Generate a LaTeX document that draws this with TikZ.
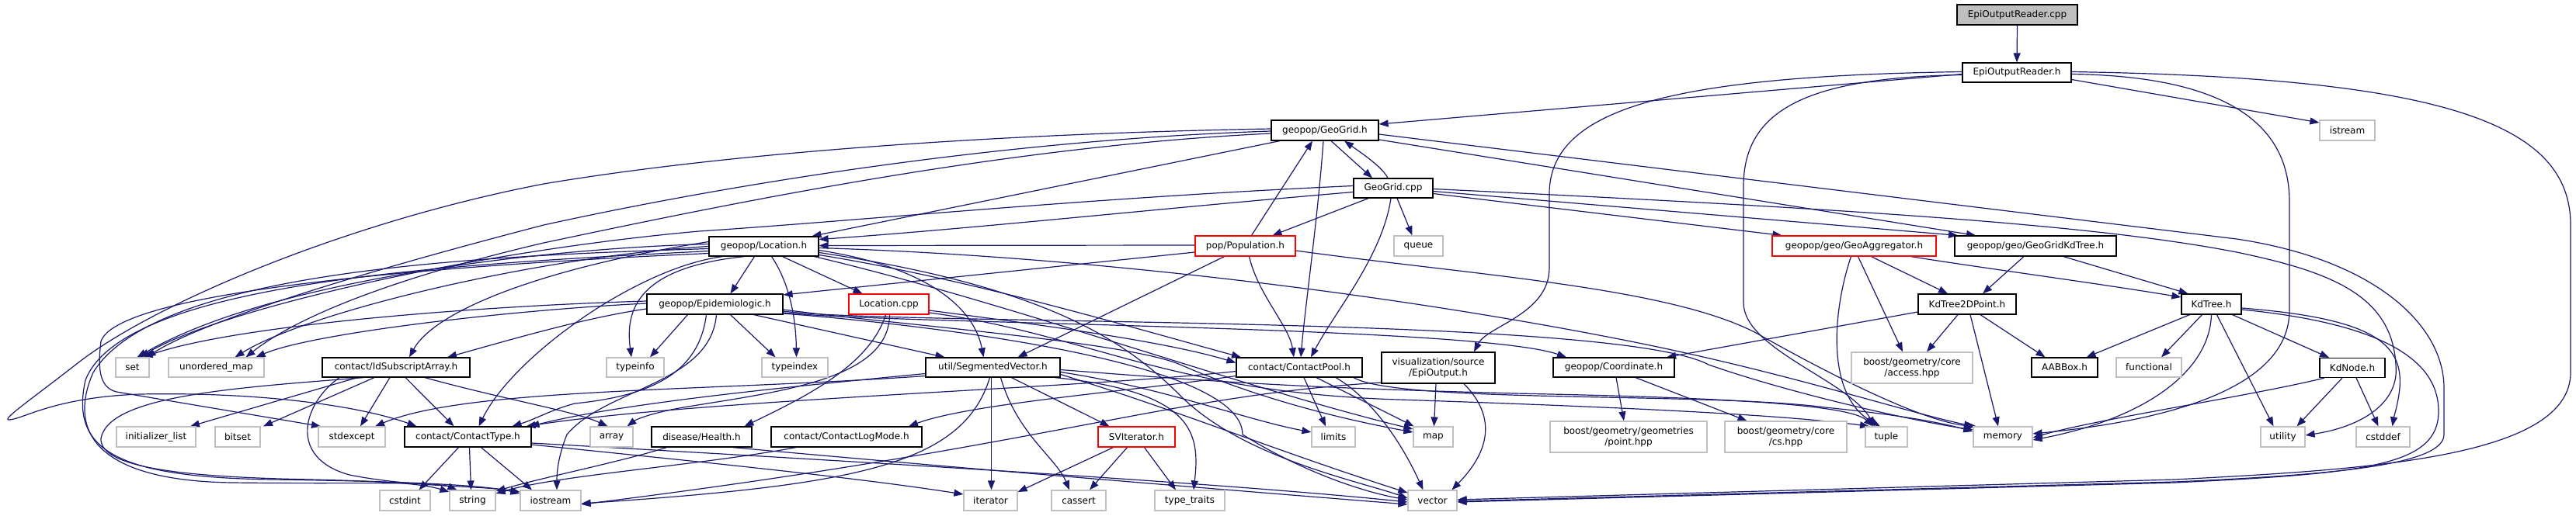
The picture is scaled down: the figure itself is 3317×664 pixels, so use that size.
\documentclass[tikz,border=0pt]{standalone}
\usepackage{fontspec}
\setmainfont{DejaVu Sans}
\usetikzlibrary{arrows.meta}
\definecolor{edgec}{HTML}{191970}
\definecolor{sysc}{HTML}{BFBFBF}
\definecolor{rootc}{HTML}{BFBFBF}
\pgfdeclarelayer{back}
\pgfdeclarelayer{edges}
\pgfsetlayers{back,edges,main}
\tikzset{
  fnode/.style={draw=black, line width=1.2pt, fill=white, inner sep=0pt, rectangle, align=center, font=\fontsize{12}{14}\selectfont},
  sysnode/.style={fnode, draw=sysc},
  rednode/.style={fnode, draw=red},
  rootnode/.style={fnode, fill=rootc},
  dep/.style={draw=edgec, line width=1.2pt, -{Triangle[length=12pt,width=9pt]}}
}
\begin{document}
\begin{tikzpicture}[x=1pt,y=-1pt]
\useasboundingbox (0,0) rectangle (3317,664);
\begin{pgfonlayer}{back}
\fill[white] (0,0) rectangle (3317,664);
\end{pgfonlayer}
% ---------------- nodes ----------------
\node[rootnode, minimum width=155, minimum height=26] (cppR) at (2597.5,19) {EpiOutputReader.cpp};
\node[fnode, minimum width=140, minimum height=25] (eorh) at (2597,93.5) {EpiOutputReader.h};
\node[fnode, minimum width=138, minimum height=26] (geogridh) at (1706,168) {geopop/GeoGrid.h};
\node[sysnode, minimum width=71, minimum height=26] (istream) at (3022.5,168) {istream};
\node[fnode, minimum width=102, minimum height=25] (geogridcpp) at (1794,242.5) {GeoGrid.cpp};
\node[fnode, minimum width=141, minimum height=25] (loch) at (983.5,317.5) {geopop/Location.h};
\node[rednode, minimum width=129, minimum height=26] (poph) at (1603.5,317) {pop/Population.h};
\node[sysnode, minimum width=63, minimum height=26] (queue) at (1826.5,317) {queue};
\node[rednode, minimum width=211, minimum height=26] (geoagg) at (2387.5,317) {geopop/geo/GeoAggregator.h};
\node[fnode, minimum width=208, minimum height=26] (gkdt) at (2621,317) {geopop/geo/GeoGridKdTree.h};
\node[fnode, minimum width=175, minimum height=26] (epih) at (920.5,392) {geopop/Epidemiologic.h};
\node[rednode, minimum width=103, minimum height=26] (loccpp) at (1144.5,392) {Location.cpp};
\node[fnode, minimum width=126, minimum height=26] (kd2d) at (2533,392) {KdTree2DPoint.h};
\node[fnode, minimum width=77, minimum height=26] (kdtree) at (2847.5,392) {KdTree.h};
\node[sysnode, minimum width=43, minimum height=25] (set) at (170.5,473.5) {set};
\node[sysnode, minimum width=123, minimum height=25] (umap) at (278.5,473.5) {unordered\_map};
\node[fnode, minimum width=190, minimum height=25] (idsub) at (510,473.5) {contact/IdSubscriptArray.h};
\node[sysnode, minimum width=74, minimum height=25] (typeinfo) at (818,473.5) {typeinfo};
\node[sysnode, minimum width=85, minimum height=25] (typeindex) at (1023.5,473.5) {typeindex};
\node[fnode, minimum width=173, minimum height=25] (segvec) at (1278.5,473.5) {util/SegmentedVector.h};
\node[fnode, minimum width=162, minimum height=25] (cpool) at (1673,473.5) {contact/ContactPool.h};
\node[fnode, minimum width=146, minimum height=40] (epiout) at (1852,474) {visualization/source\\/EpiOutput.h};
\node[fnode, minimum width=156, minimum height=25] (coord) at (2078,473.5) {geopop/Coordinate.h};
\node[sysnode, minimum width=156, minimum height=40] (access) at (2462,474) {boost/geometry/core\\/access.hpp};
\node[fnode, minimum width=85, minimum height=25] (aabb) at (2658.5,473.5) {AABBox.h};
\node[sysnode, minimum width=84, minimum height=25] (functional) at (2767,473.5) {functional};
\node[fnode, minimum width=84, minimum height=25] (kdnode) at (3029,474) {KdNode.h};
\node[sysnode, minimum width=102, minimum height=26] (initl) at (201,563) {initializer\_list};
\node[sysnode, minimum width=58, minimum height=26] (bitset) at (306,563) {bitset};
\node[sysnode, minimum width=86, minimum height=26] (stdexcept) at (453,563) {stdexcept};
\node[fnode, minimum width=163, minimum height=26] (ctype) at (602.5,563) {contact/ContactType.h};
\node[sysnode, minimum width=55, minimum height=26] (array) at (787.5,563) {array};
\node[fnode, minimum width=129, minimum height=26] (health) at (903.5,563) {disease/Health.h};
\node[fnode, minimum width=194, minimum height=26] (clogm) at (1090,563) {contact/ContactLogMode.h};
\node[rednode, minimum width=99, minimum height=26] (sviter) at (1463.5,563) {SVIterator.h};
\node[sysnode, minimum width=56, minimum height=26] (limits) at (1717,563) {limits};
\node[sysnode, minimum width=51, minimum height=26] (map) at (1845.5,563) {map};
\node[sysnode, minimum width=202, minimum height=40] (pointhpp) at (2097,563) {boost/geometry/geometries\\/point.hpp};
\node[sysnode, minimum width=157, minimum height=40] (cshpp) at (2299.5,563) {boost/geometry/core\\/cs.hpp};
\node[sysnode, minimum width=54, minimum height=26] (tuple) at (2429,563) {tuple};
\node[sysnode, minimum width=76, minimum height=26] (memory) at (2579,563) {memory};
\node[sysnode, minimum width=57, minimum height=26] (utility) at (2939.5,563) {utility};
\node[sysnode, minimum width=69, minimum height=26] (cstddef) at (3068.5,563) {cstddef};
\node[sysnode, minimum width=65, minimum height=26] (cstdint) at (521.5,645) {cstdint};
\node[sysnode, minimum width=59, minimum height=26] (string) at (608.5,645) {string};
\node[sysnode, minimum width=78, minimum height=26] (iostream) at (709,645) {iostream};
\node[sysnode, minimum width=69, minimum height=26] (iterator) at (1275.5,645) {iterator};
\node[sysnode, minimum width=70, minimum height=26] (cassert) at (1389,645) {cassert};
\node[sysnode, minimum width=90, minimum height=26] (typetraits) at (1532,645) {type\_traits};
\node[sysnode, minimum width=63, minimum height=26] (vector) at (1844.5,645) {vector};
% ---------------- edges ----------------
\begin{pgfonlayer}{edges}
% EpiOutputReader
\draw[dep] (cppR.south) -- (eorh.north);
\draw[dep] ([yshift=-2]eorh.west) -- ([yshift=8]geogridh.east);
\draw[dep] ([yshift=1]eorh.west) .. controls (2150,98) and (1995,140) .. (1995,250) -- (1995,345) .. controls (1995,405) and (1915,420) .. ([xshift=46]epiout.north);
\draw[dep] ([yshift=-3]eorh.west) .. controls (2330,100) and (2245,140) .. (2245,240) -- (2245,390) .. controls (2245,450) and (2380,490) .. ([xshift=-15]tuple.north);
\draw[dep] ([yshift=-9]eorh.east) -- ([yshift=10]istream.west);
\draw[dep] ([yshift=-2]eorh.east) .. controls (2850,98) and (2948,150) .. (2948,260) -- (2948,400) .. controls (2948,510) and (2760,545) .. ([yshift=4]memory.east);
\draw[dep] ([yshift=1]eorh.east) .. controls (3150,100) and (3310,160) .. (3310,290) -- (3310,480) .. controls (3310,590) and (3050,605) .. (2800,618) -- ([yshift=1]vector.east);
% GeoGrid.h
\draw[dep] ([xshift=8]geogridh.south) -- ([xshift=-27]geogridcpp.north);
\draw[dep] ([xshift=-58]geogridh.south) -- ([xshift=62]loch.north);
\draw[dep] ([xshift=-2]geogridh.south) .. controls (1697,280) and (1680,400) .. ([xshift=2]cpool.north);
\draw[dep] ([yshift=-12]geogridh.east) -- ([xshift=-77]gkdt.north);
\draw[dep] ([yshift=-5]geogridh.east) -- (2880,308) .. controls (3060,335) and (3147,420) .. (3147,500) -- (3147,560) .. controls (3147,600) and (3000,612) .. (2800,621) -- ([yshift=-1]vector.east);
\draw[dep] ([yshift=2]geogridh.west) .. controls (1300,172) and (950,195) .. (700,237) .. controls (450,285) and (200,390) .. (100,468) .. controls (40,515) and (0,542) .. (12,541) .. controls (30,540) and (70,512) .. (180,508) .. controls (330,505) and (460,522) .. ([xshift=-66]ctype.north);
\draw[dep] ([yshift=-1]geogridh.west) .. controls (1300,180) and (950,235) .. (700,290) .. controls (450,355) and (260,415) .. ([xshift=18]set.north);
\draw[dep] ([yshift=-4]geogridh.west) .. controls (1300,188) and (950,260) .. (700,313) .. controls (500,360) and (380,410) .. ([xshift=38]umap.north);
% GeoGrid.cpp
\draw[dep] ([xshift=-7]geogridcpp.north) .. controls (1780,215) and (1750,195) .. ([xshift=25]geogridh.south);
\draw[dep] ([xshift=-32]geogridcpp.south) -- ([xshift=35]poph.north);
\draw[dep] ([xshift=5]geogridcpp.south) -- ([xshift=-8]queue.north);
\draw[dep] ([xshift=-3]geogridcpp.south) .. controls (1780,330) and (1720,400) .. ([xshift=15]cpool.north);
\draw[dep] ([yshift=-5]geogridcpp.west) .. controls (1500,268) and (1250,295) .. ([yshift=9]loch.east);
\draw[dep] ([yshift=-7]geogridcpp.east) -- ([xshift=-93]geoagg.north);
\draw[dep] ([yshift=-4]geogridcpp.east) -- ([xshift=-100]gkdt.north);
\draw[dep] ([yshift=-1]geogridcpp.east) .. controls (2400,270) and (2700,290) .. (2880,325) .. controls (3000,350) and (3080,380) .. (3085,470) .. controls (3090,520) and (3040,550) .. ([yshift=2]utility.east);
\draw[dep] ([yshift=3]geogridcpp.west) .. controls (1400,255) and (1100,285) .. (900,298) .. controls (600,325) and (280,400) .. ([xshift=10]set.north);
% Population.h
\draw[dep] ([xshift=8]poph.north) -- ([xshift=-16]geogridh.south);
\draw[dep] ([xshift=5]poph.south) .. controls (1620,380) and (1660,420) .. ([xshift=-7]cpool.north);
\draw[dep] ([xshift=-27]poph.south) -- ([xshift=32]segvec.north);
\draw[dep] ([yshift=-8]poph.west) -- ([yshift=12]epih.east);
\draw[dep] ([yshift=-6]poph.east) .. controls (1900,355) and (2150,370) .. (2263,430) .. controls (2360,485) and (2480,545) .. ([xshift=-34]memory.north);
\draw[dep] ([yshift=1]poph.west) -- ([yshift=1]loch.east);
% Location.h
\draw[dep] ([xshift=-12]loch.south) -- ([xshift=20]epih.north);
\draw[dep] ([xshift=24]loch.south) -- ([xshift=-34]loccpp.north);
\draw[dep] ([xshift=-25]loch.south) .. controls (820,345) and (805,400) .. ([xshift=-5]typeinfo.north);
\draw[dep] ([xshift=10]loch.south) .. controls (1020,370) and (1025,420) .. ([xshift=2]typeindex.north);
\draw[dep] ([yshift=-5]loch.east) .. controls (1200,345) and (1255,400) .. ([xshift=-12]segvec.north);
\draw[dep] ([yshift=-11]loch.east) .. controls (1250,360) and (1450,420) .. ([xshift=-75]cpool.north);
\draw[dep] ([xshift=65]loch.south) .. controls (1300,390) and (1600,500) .. ([yshift=10]map.west);
\draw[dep] ([yshift=6]loch.west) .. controls (700,345) and (560,400) .. ([xshift=17]idsub.north);
\draw[dep] ([xshift=-53]loch.south) .. controls (820,345) and (660,460) .. ([xshift=14]ctype.north);
\draw[dep] ([yshift=3]loch.west) .. controls (700,320) and (350,360) .. ([xshift=6]set.north);
\draw[dep] ([yshift=0]loch.west) .. controls (700,330) and (400,400) .. ([xshift=24]umap.north);
\draw[dep] ([yshift=-3]loch.west) .. controls (600,330) and (200,350) .. (120,480) .. controls (85,560) and (130,620) .. (300,622) .. controls (450,624) and (560,620) .. ([xshift=-20]string.north);
\draw[dep] ([yshift=-6]loch.west) .. controls (600,340) and (160,360) .. (110,490) .. controls (90,580) and (150,615) .. (350,618) .. controls (500,620) and (620,624) .. ([yshift=9]iostream.west);
\draw[dep] ([yshift=-9]loch.west) .. controls (500,345) and (150,380) .. (130,440) .. controls (125,480) and (130,500) .. (150,505) -- ([xshift=-40]stdexcept.north);
\draw[dep] ([yshift=-2]loch.east) .. controls (1400,330) and (1800,380) .. (2100,440) .. controls (2300,480) and (2450,530) .. ([xshift=-38]memory.north);
\draw[dep] ([yshift=-8]loch.east) .. controls (1350,370) and (1450,440) .. (1520,510) .. controls (1600,590) and (1750,620) .. ([yshift=3]vector.west);
% Epidemiologic.h
\draw[dep] ([xshift=-35]epih.south) -- ([xshift=19]typeinfo.north);
\draw[dep] ([xshift=20]epih.south) -- ([xshift=-25]typeindex.north);
\draw[dep] ([xshift=50]epih.south) -- ([xshift=-62]segvec.north);
\draw[dep] ([xshift=-11]epih.south) .. controls (900,480) and (840,510) .. (740,520) .. controls (710,528) and (690,540) .. ([xshift=57]ctype.north);
\draw[dep] ([xshift=2]epih.south) .. controls (915,495) and (780,500) .. (730,560) .. controls (720,585) and (717,605) .. ([xshift=8]iostream.north);
\draw[dep] ([yshift=-6]epih.west) .. controls (750,410) and (650,440) .. ([xshift=66]idsub.north);
\draw[dep] ([yshift=4]epih.west) .. controls (600,395) and (300,420) .. ([xshift=14]set.north);
\draw[dep] ([yshift=1]epih.west) .. controls (650,400) and (400,430) .. ([xshift=51]umap.north);
\draw[dep] ([yshift=-7]epih.east) .. controls (1150,418) and (1450,440) .. (1520,470) .. controls (1600,505) and (1700,535) .. ([yshift=6]map.west);
\draw[dep] ([yshift=-9]epih.east) .. controls (1150,420) and (2080,405) .. (2200,470) .. controls (2300,505) and (2450,540) .. ([yshift=9]memory.west);
\draw[dep] ([yshift=-11]epih.east) .. controls (1150,418) and (1900,420) .. ([xshift=-61]coord.north);
\draw[dep] ([yshift=-12]epih.east) .. controls (1150,415) and (1600,460) .. (1600,560) .. controls (1680,610) and (1760,635) .. ([yshift=1]vector.west);
% Location.cpp
\draw[dep] ([xshift=-4]loccpp.south) .. controls (1120,470) and (1040,510) .. ([xshift=55]health.north);
\draw[dep] ([xshift=1]loccpp.south) .. controls (1145,490) and (1000,505) .. (880,525) .. controls (840,532) and (820,540) .. ([xshift=20]array.north);
\draw[dep] ([yshift=-8]loccpp.east) .. controls (1350,420) and (1500,440) .. ([yshift=6]cpool.west);
\draw[dep] ([yshift=-11]loccpp.east) .. controls (1400,430) and (1500,505) .. (1800,515) .. controls (2100,525) and (2300,535) .. ([xshift=-22]tuple.north);
% SegmentedVector.h
\draw[dep] ([xshift=-4]segvec.south) .. controls (1240,600) and (1100,625) .. ([yshift=-4]iostream.east);
\draw[dep] ([xshift=-2]segvec.south) -- ([xshift=1]iterator.north);
\draw[dep] ([xshift=10]segvec.south) .. controls (1310,560) and (1360,590) .. ([xshift=-12]cassert.north);
\draw[dep] ([xshift=24]segvec.south) -- ([xshift=-35]sviter.north);
\draw[dep] ([yshift=-6]segvec.east) .. controls (1500,500) and (1600,540) .. ([yshift=6]limits.west);
\draw[dep] ([yshift=-9]segvec.east) .. controls (1520,530) and (1640,580) .. ([yshift=10]vector.west);
\draw[dep] ([xshift=80]segvec.south) .. controls (1540,505) and (1545,560) .. ([xshift=5]typetraits.north);
\draw[dep] ([yshift=-8]segvec.west) .. controls (1000,500) and (800,520) .. ([xshift=80]ctype.north);
\draw[dep] ([yshift=-11]segvec.west) .. controls (900,505) and (600,500) .. ([xshift=30]stdexcept.north);
\draw[dep] ([yshift=-3]segvec.east) .. controls (1600,495) and (1700,500) .. (1950,507) .. controls (2200,512) and (2380,520) .. ([xshift=-17]tuple.north);
% ContactPool.h
\draw[dep] ([yshift=-5]cpool.west) .. controls (1400,500) and (900,515) .. ([xshift=75]ctype.north);
\draw[dep] ([yshift=-11]cpool.west) .. controls (1450,505) and (1250,520) .. ([xshift=80]clogm.north);
\draw[dep] ([xshift=6]cpool.south) -- ([xshift=-10]limits.north);
\draw[dep] ([xshift=22]cpool.south) -- ([xshift=-25]map.north);
\draw[dep] ([xshift=47]cpool.south) .. controls (1760,510) and (1800,560) .. ([xshift=-12]vector.north);
\draw[dep] ([xshift=70]cpool.south) .. controls (1800,520) and (2200,505) .. (2350,525) .. controls (2450,535) and (2500,545) .. ([yshift=7]memory.west);
% EpiOutput.h
\draw[dep] ([xshift=-3]epiout.south) -- ([xshift=1]map.north);
\draw[dep] ([xshift=33]epiout.south) .. controls (1940,550) and (1900,600) .. ([xshift=25]vector.north);
\draw[dep] ([yshift=-19]epiout.west) .. controls (1500,510) and (1350,575) .. ([yshift=-5]iostream.east);
% Coordinate.h
\draw[dep] ([xshift=3]coord.south) -- ([xshift=-6]pointhpp.north);
\draw[dep] ([xshift=28]coord.south) -- ([xshift=-50]cshpp.north);
% GeoAggregator.h
\draw[dep] ([xshift=22]geoagg.south) -- ([xshift=-25]kd2d.north);
\draw[dep] ([xshift=5]geoagg.south) -- ([xshift=-12]access.north);
\draw[dep] ([xshift=-4]geoagg.south) .. controls (2360,400) and (2350,510) .. ([xshift=-8]tuple.north);
\draw[dep] ([xshift=73]geoagg.south) .. controls (2550,345) and (2700,365) .. ([yshift=9]kdtree.west);
% GeoGridKdTree.h
\draw[dep] ([xshift=-15]gkdt.south) -- ([xshift=20]kd2d.north);
\draw[dep] ([xshift=36]gkdt.south) -- ([xshift=-30]kdtree.north);
% KdTree2DPoint.h
\draw[dep] ([yshift=-10]kd2d.west) -- ([xshift=68]coord.north);
\draw[dep] ([xshift=-12]kd2d.south) -- ([xshift=19]access.north);
\draw[dep] ([xshift=4]kd2d.south) -- ([xshift=-6]memory.north);
\draw[dep] ([xshift=17]kd2d.south) -- ([xshift=-25]aabb.north);
% KdTree.h
\draw[dep] ([xshift=-28]kdtree.south) -- ([xshift=28]aabb.north);
\draw[dep] ([xshift=-12]kdtree.south) -- ([xshift=16]functional.north);
\draw[dep] ([xshift=0]kdtree.south) .. controls (2845,480) and (2760,540) .. ([yshift=-4]memory.east);
\draw[dep] ([xshift=7]kdtree.south) -- ([xshift=-12]utility.north);
\draw[dep] ([xshift=27]kdtree.south) -- ([xshift=-30]kdnode.north);
\draw[dep] ([yshift=-5]kdtree.east) .. controls (3050,410) and (3095,440) .. (3090,500) .. controls (3088,520) and (3083,535) .. ([xshift=12]cstddef.north);
\draw[dep] ([yshift=-7]kdtree.east) .. controls (3100,420) and (3140,480) .. (3140,530) .. controls (3140,600) and (3050,610) .. (2800,622) -- ([yshift=-2]vector.east);
% KdNode.h
\draw[dep] ([xshift=-36]kdnode.south) .. controls (2900,510) and (2700,540) .. ([yshift=-1]memory.east);
\draw[dep] ([xshift=-13]kdnode.south) -- ([xshift=18]utility.north);
\draw[dep] ([xshift=5]kdnode.south) -- ([xshift=-6]cstddef.north);
% IdSubscriptArray.h
\draw[dep] ([xshift=-50]idsub.south) -- ([xshift=44]initl.north);
\draw[dep] ([xshift=-28]idsub.south) -- ([xshift=33]bitset.north);
\draw[dep] ([xshift=-8]idsub.south) -- ([xshift=11]stdexcept.north);
\draw[dep] ([xshift=12]idsub.south) -- ([xshift=-18]ctype.north);
\draw[dep] ([xshift=37]idsub.south) .. controls (650,515) and (740,530) .. ([xshift=-5]array.north);
\draw[dep] ([xshift=-42]idsub.south) .. controls (300,500) and (140,510) .. (130,565) .. controls (128,605) and (250,615) .. (400,618) .. controls (480,620) and (540,622) .. ([yshift=11]string.west);
\draw[dep] ([xshift=-73]idsub.south) .. controls (390,520) and (370,590) .. (450,612) .. controls (530,628) and (620,626) .. ([yshift=11]iostream.west);
% ContactType.h
\draw[dep] ([xshift=-12]ctype.south) -- ([xshift=18]cstdint.north);
\draw[dep] ([xshift=2]ctype.south) -- ([xshift=-2]string.north);
\draw[dep] ([xshift=17]ctype.south) -- ([xshift=-24]iostream.north);
\draw[dep] ([yshift=-10]ctype.east) .. controls (900,595) and (1100,615) .. ([yshift=8]iterator.west);
\draw[dep] ([yshift=-8]ctype.east) .. controls (1200,600) and (1600,625) .. ([yshift=-2]vector.west);
% Health.h, ContactLogMode.h
\draw[dep] ([xshift=-45]health.south) .. controls (800,595) and (700,615) .. ([yshift=12]string.east);
\draw[dep] ([xshift=40]health.south) .. controls (1200,600) and (1500,625) .. ([yshift=-5]vector.west);
\draw[dep] ([xshift=-65]clogm.south) .. controls (900,600) and (720,612) .. ([yshift=9]string.east);
% SVIterator.h
\draw[dep] ([xshift=-30]sviter.south) -- ([yshift=11]iterator.east);
\draw[dep] ([xshift=-12]sviter.south) -- ([xshift=14]cassert.north);
\draw[dep] ([xshift=10]sviter.south) -- ([xshift=-18]typetraits.north);
\end{pgfonlayer}
\end{tikzpicture}
\end{document}
